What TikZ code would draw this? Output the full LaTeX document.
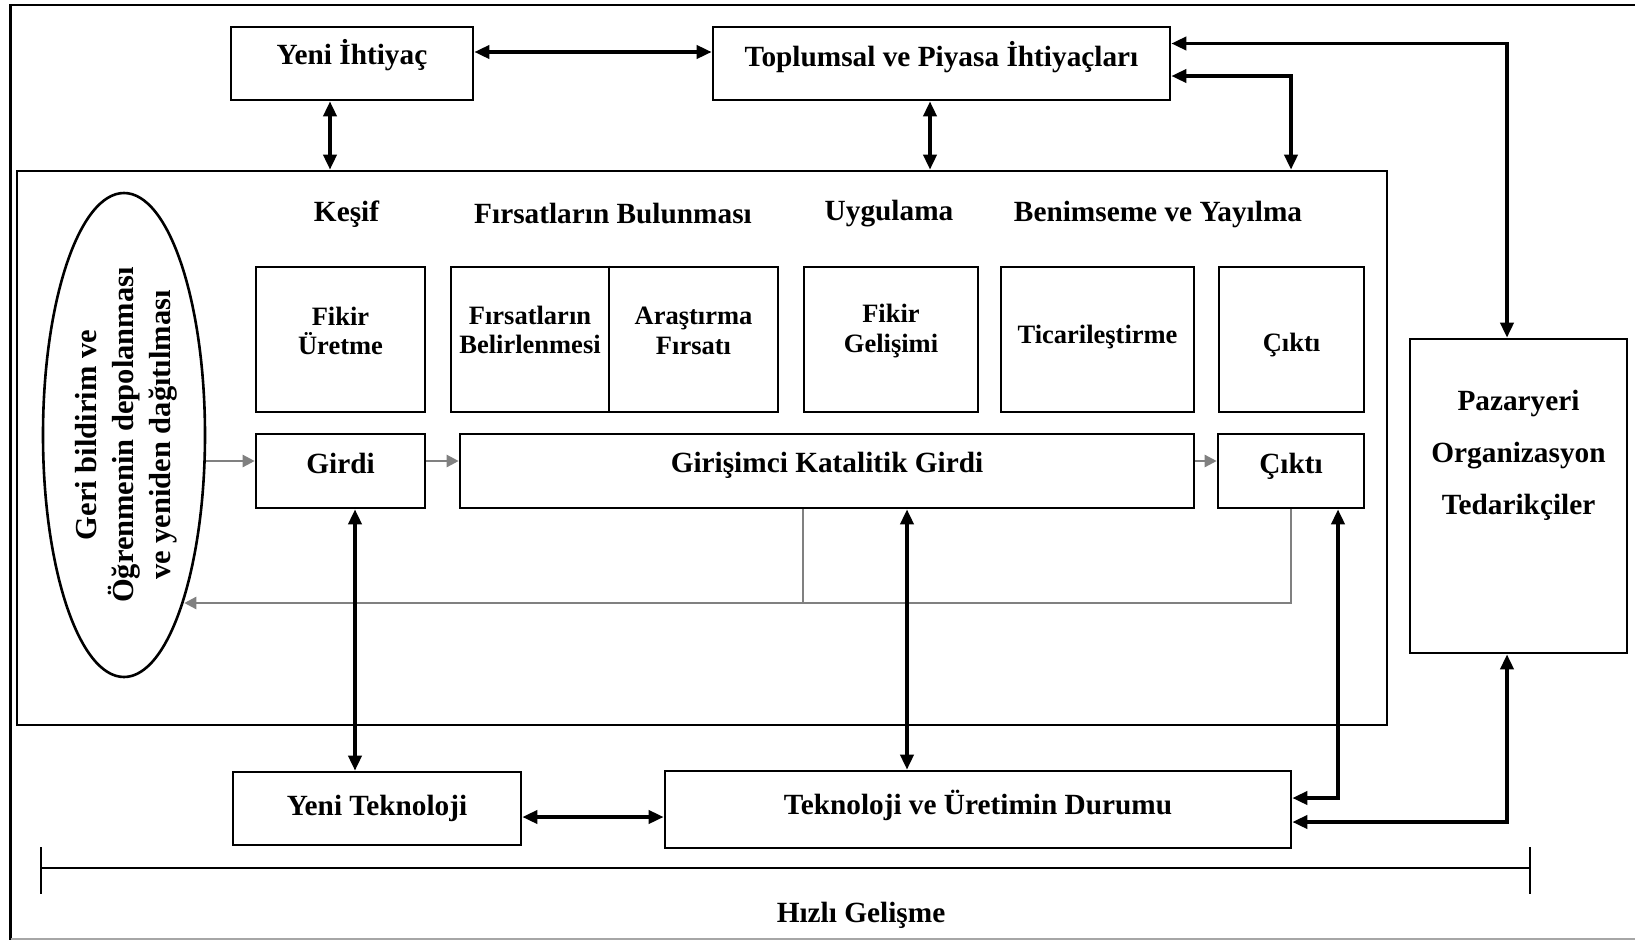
\documentclass[tikz,border=0pt]{standalone}
\usepackage{fontspec}
\setmainfont{Liberation Serif}
\usetikzlibrary{arrows.meta,shapes.geometric}

\tikzset{
  box/.style={draw, line width=2.6pt, inner sep=0pt},
  frame/.style={draw, line width=2.6pt, inner sep=0pt},
  big/.style={inner sep=0pt, align=center, font=\bfseries\fontsize{29.3pt}{34pt}\selectfont},
  small/.style={inner sep=0pt, align=center, font=\bfseries\fontsize{26.5pt}{29.5pt}\selectfont},
  oval/.style={inner sep=0pt, align=center, font=\bfseries\fontsize{30.5pt}{37pt}\selectfont},
  barrow/.style={line width=3.6pt, {Triangle[length=15pt,width=13pt]}-{Triangle[length=15pt,width=13pt]}},
  garrow/.style={draw=gray, line width=2.4pt, -{Triangle[length=12pt,width=12pt]}},
  gline/.style={draw=gray, line width=2.2pt},
}

\begin{document}
\begin{tikzpicture}[x=1pt,y=-1pt]
\useasboundingbox (0,0) rectangle (1635,940);

% page frame
\draw[line width=2.6pt] (1635,5) -- (10.5,5) -- (10.5,940);
\draw[gray!70, line width=1.2pt] (10.5,939) -- (1635,939);

% helper levels for connectors
\coordinate (h43) at (0,43.5);
\coordinate (h52) at (0,52);
\coordinate (h76) at (0,76);
\coordinate (h461) at (0,461);
\coordinate (h798) at (0,798);
\coordinate (h817) at (0,817);
\coordinate (h822) at (0,822);
\coordinate (v330) at (330,0);
\coordinate (v355) at (355,0);
\coordinate (v907) at (907,0);
\coordinate (v930) at (930,0);
\coordinate (v1291) at (1291,0);
\coordinate (v1338) at (1338,0);
\coordinate (v1507) at (1507,0);
\coordinate (fdiv) at (609,0);
\coordinate (fbjoin) at (803,603);

% top boxes
\node[box, minimum width=242pt, minimum height=73pt] (yeni) at (352,63.5) {};
\node[big] (yeni-t) at (352,55) {Yeni İhtiyaç};
\node[box, minimum width=457pt, minimum height=73pt] (toplum) at (941.5,63.5) {};
\node[big] (toplum-t) at (941.5,57.5) {Toplumsal ve Piyasa İhtiyaçları};

% process frame
\node[frame, minimum width=1370pt, minimum height=554pt] (inner) at (702,448) {};

% stage headings
\node[big] (kesif) at (346.5,214) {Keşif};
\node[big] (bulunma) at (613,214) {Fırsatların Bulunması};
\node[big] (uygulama) at (889,214) {Uygulama};
\node[big] (benimseme) at (1158,214) {Benimseme ve Yayılma};

% stage boxes
\node[box, minimum width=169pt, minimum height=145pt] (fikir1) at (340.5,339.5) {};
\node[small] (fikir1-t) at (340.5,331) {Fikir\\Üretme};
\node[box, minimum width=327pt, minimum height=145pt] (firs) at (614.5,339.5) {};
\draw[line width=2pt] (firs.north -| fdiv) -- (firs.south -| fdiv);
\node[small] (firs-t1) at (530,330) {Fırsatların\\Belirlenmesi};
\node[small] (firs-t2) at (693.5,331) {Araştırma\\Fırsatı};
\node[box, minimum width=174pt, minimum height=145pt] (fikir2) at (891,339.5) {};
\node[small] (fikir2-t) at (891,331) {Fikir\\Gelişimi};
\node[box, minimum width=193pt, minimum height=145pt] (tic) at (1097.5,339.5) {};
\node[small] (tic-t) at (1097.5,337) {Ticarileştirme};
\node[box, minimum width=145pt, minimum height=145pt] (cikti1) at (1291.5,339.5) {};
\node[small] (cikti1-t) at (1291.5,345) {Çıktı};

% input / output row
\node[box, minimum width=169pt, minimum height=74pt] (girdi) at (340.5,471) {};
\node[big] (girdi-t) at (340.5,463) {Girdi};
\node[box, minimum width=734pt, minimum height=74pt] (gkg) at (827,471) {};
\node[big] (gkg-t) at (827,465) {Girişimci Katalitik Girdi};
\node[box, minimum width=146pt, minimum height=74pt] (cikti2) at (1291,471) {};
\node[big] (cikti2-t) at (1291,466) {Çıktı};

% feedback oval
\node[draw, ellipse, line width=2.6pt, inner sep=0pt, minimum width=162pt, minimum height=484pt] (ell) at (124,435) {};
\node[oval, rotate=90] (ell-t) at (126,435) {Geri bildirim ve\\Öğrenmenin depolanması\\ve yeniden dağıtılması};

% market box
\node[box, minimum width=217pt, minimum height=314pt] (pazar) at (1518.5,496) {};
\node[big, font=\bfseries\fontsize{29.3pt}{52pt}\selectfont] (pazar-t) at (1518.5,455) {Pazaryeri\\Organizasyon\\Tedarikçiler};

% bottom boxes
\node[box, minimum width=288pt, minimum height=73pt] (ytek) at (377,808.5) {};
\node[big] (ytek-t) at (377,808) {Yeni Teknoloji};
\node[box, minimum width=626pt, minimum height=77pt] (tek) at (978,809.5) {};
\node[big] (tek-t) at (978,805) {Teknoloji ve Üretimin Durumu};

% rapid development span
\draw[line width=2.4pt] (41,847) -- (41,894);
\draw[line width=2.4pt] (1530,847) -- (1530,894);
\draw[line width=2.4pt] (41,868) -- (1530,868);
\node[big] (hizli) at (861,915) {Hızlı Gelişme};

% grey flow inside the process
\draw[garrow] (ell.-17 |- h461) -- (girdi.west |- h461);
\draw[garrow] (girdi.east |- h461) -- (gkg.west |- h461);
\draw[garrow] (gkg.east |- h461) -- (cikti2.west |- h461);
\draw[gline] (gkg.south -| fbjoin) -- (fbjoin);
\draw[garrow] (cikti2.south) -- (cikti2.south |- fbjoin) -- (ell.-70.9 |- fbjoin);

% black two-way links
\draw[barrow] (yeni.east |- h52) -- (toplum.west |- h52);
\draw[barrow] (yeni.south -| v330) -- (inner.north -| v330);
\draw[barrow] (toplum.south -| v930) -- (inner.north -| v930);
\draw[barrow] (toplum.east |- h43) -| (pazar.north -| v1507);
\draw[barrow] (toplum.east |- h76) -| (inner.north -| v1291);
\draw[barrow] (girdi.south -| v355) -- (ytek.north -| v355);
\draw[barrow] (gkg.south -| v907) -- (tek.north -| v907);
\draw[barrow] (cikti2.south -| v1338) |- (tek.east |- h798);
\draw[barrow] (pazar.south -| v1507) |- (tek.east |- h822);
\draw[barrow] (ytek.east |- h817) -- (tek.west |- h817);

\end{tikzpicture}
\end{document}
